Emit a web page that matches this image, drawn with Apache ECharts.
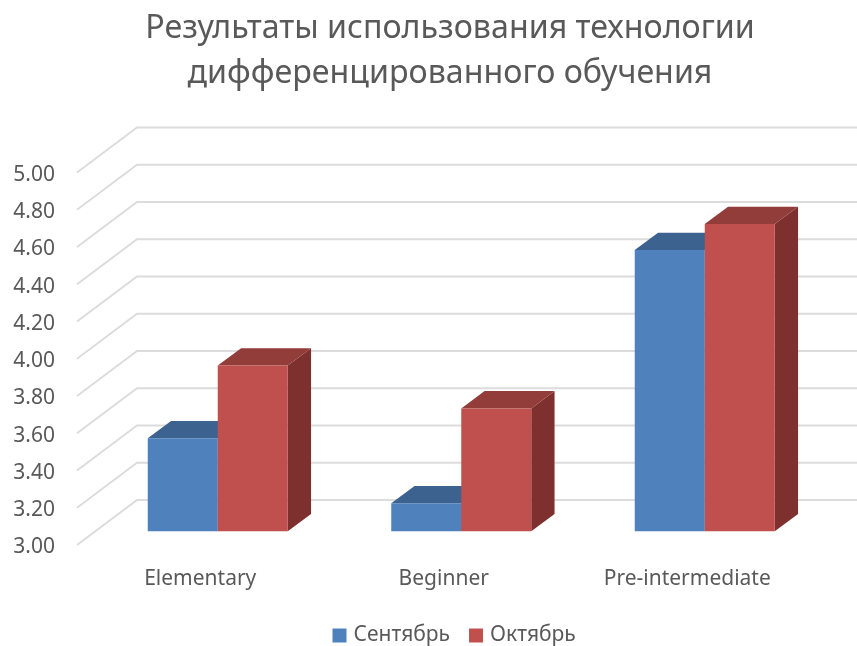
<!DOCTYPE html>
<html>
<head>
<meta charset="utf-8">
<style>
  html, body { margin: 0; padding: 0; background: #fff; }
  #chart { width: 857px; height: 646px; }
</style>
<script src="https://cdn.jsdelivr.net/npm/echarts@6/dist/echarts.min.js"></script>
</head>
<body>
<div id="chart"></div>
<script>
const titleText = "Результаты использования технологии\nдифференцированного обучения";
const categories = ["Elementary", "Beginner", "Pre-intermediate"];
const seriesNames = ["Сентябрь", "Октябрь"];
const september = [3.5, 3.15, 4.51];
const october = [3.89, 3.66, 4.65];
const yTicks = [3.0, 3.2, 3.4, 3.6, 3.8, 4.0, 4.2, 4.4, 4.6, 4.8, 5.0];

const FONT = "Noto Sans";
const TEXT = "#595959";

// 3D look: pixel offsets for the depth of the walls and of the bars
const WALL_DX = 60, WALL_DY = -45;
const PLANE_DX = 19, PLANE_DY = -13.7;
const BAR_DX = 23.3, BAR_DY = -17.3;
const BAR_RATIO = 0.2875;

const colors = [
  { front: "#4F81BD", top: "#3C6290", side: "#385D8A" },
  { front: "#C0504D", top: "#933D3B", side: "#7D302E" },
];

function poly(points, fill) {
  return { type: "polygon", shape: { points: points }, style: { fill: fill } };
}

// grid lines: short diagonal on the side wall + long line on the back wall
function renderWall(params, api) {
  const p = api.coord([0, api.value(0)]);
  const x0 = params.coordSys.x;
  const x1 = x0 + params.coordSys.width + WALL_DX;
  return {
    type: "polyline",
    shape: { points: [[x0, p[1]], [x0 + WALL_DX, p[1] + WALL_DY], [x1, p[1] + WALL_DY]] },
    style: { fill: "none", stroke: "#DCDCDC", lineWidth: 2 },
  };
}

function barRenderer(idx) {
  return function (params, api) {
    const cat = api.value(0);
    const top = api.coord([cat, api.value(1)]);
    const base = api.coord([cat, yTicks[0]]);
    const w = api.size([1, 0])[0] * BAR_RATIO;
    const x0 = top[0] + PLANE_DX + (idx - 1) * w;
    const x1 = x0 + w;
    const yT = top[1] + PLANE_DY;
    const yB = base[1] + PLANE_DY;
    const c = colors[idx];
    return {
      type: "group",
      children: [
        poly([[x1, yT], [x1 + BAR_DX, yT + BAR_DY], [x1 + BAR_DX, yB + BAR_DY], [x1, yB]], c.side),
        poly([[x0, yT], [x0 + BAR_DX, yT + BAR_DY], [x1 + BAR_DX, yT + BAR_DY], [x1, yT]], c.top),
        poly([[x0, yT], [x1, yT], [x1, yB], [x0, yB]], c.front),
      ],
    };
  };
}

const chart = echarts.init(document.getElementById("chart"));
chart.setOption({
  animation: false,
  backgroundColor: "#fff",
  title: {
    text: titleText,
    left: 445,
    top: 1,
    textAlign: "center",
    textStyle: { fontFamily: FONT, fontSize: 32.2, fontWeight: "normal", color: TEXT, lineHeight: 45 },
  },
  legend: {
    data: seriesNames,
    top: 620,
    left: 327.5,
    icon: "rect",
    itemWidth: 14,
    itemHeight: 14,
    itemGap: 19,
    textStyle: { fontFamily: FONT, fontSize: 21, color: TEXT, padding: [0, 0, 0, 2] },
  },
  grid: { left: 77, top: 172.5, width: 730.5, height: 372.5 },
  xAxis: {
    type: "category",
    data: categories,
    axisLine: { show: false },
    axisTick: { show: false },
    splitLine: { show: false },
    axisLabel: { fontFamily: FONT, fontSize: 21, color: TEXT, margin: 24, padding: [0, 0, 0, 3] },
  },
  yAxis: {
    type: "value",
    min: 3,
    max: 5,
    interval: 0.2,
    axisLine: { show: false },
    axisTick: { show: false },
    splitLine: { show: false },
    axisLabel: {
      fontFamily: FONT,
      fontSize: 21,
      color: TEXT,
      margin: 22,
      verticalAlign: "top",
      lineHeight: 5,
      formatter: v => v.toFixed(2),
    },
  },
  series: [
    {
      name: "walls",
      type: "custom",
      silent: true,
      z: 1,
      renderItem: renderWall,
      encode: { y: 0 },
      data: yTicks.map(v => [v]),
    },
    {
      name: seriesNames[0],
      type: "custom",
      z: 2,
      itemStyle: { color: colors[0].front },
      renderItem: barRenderer(0),
      encode: { x: 0, y: 1 },
      data: september.map((v, i) => [i, v]),
    },
    {
      name: seriesNames[1],
      type: "custom",
      z: 3,
      itemStyle: { color: colors[1].front },
      renderItem: barRenderer(1),
      encode: { x: 0, y: 1 },
      data: october.map((v, i) => [i, v]),
    },
  ],
});
</script>
</body>
</html>
